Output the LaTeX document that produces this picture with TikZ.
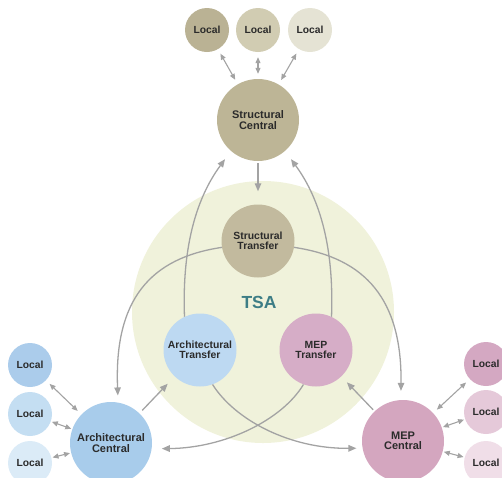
\documentclass[tikz,border=0pt]{standalone}
\usepackage{fontspec}
\setmainfont{Liberation Sans}
\usetikzlibrary{arrows.meta}
\newlength{\du}
\setlength{\du}{1pt}

\begin{document}
\begin{tikzpicture}[
  bubble/.style={circle, inner sep=0pt, align=center, text=labelcolor, font=\bfseries\fontsize{10.4}{10}\selectfont},
  central/.style={bubble, minimum size=82\du, font=\bfseries\fontsize{11}{10.5}\selectfont},
  transfer/.style={bubble, minimum size=73\du},
  local/.style={bubble, minimum size=44\du, font=\bfseries\fontsize{10.3}{10}\selectfont},
  link/.style={draw=linkcolor, line width=1.3\du, -{Triangle[length=8pt,width=6.5pt]}},
  twoway/.style={draw=linkcolor, line width=1.1\du, {Triangle[length=6pt,width=5pt]}-{Triangle[length=6pt,width=5pt]}, shorten <=5\du, shorten >=5\du}
]
\pgftransformxscale{1.000000}
\pgftransformyscale{-1.000000}
\definecolor{labelcolor}{rgb}{0.170000, 0.170000, 0.170000}
\definecolor{linkcolor}{rgb}{0.640000, 0.640000, 0.640000}
\definecolor{tsafill}{rgb}{0.940000, 0.950000, 0.860000}
\definecolor{tsatext}{rgb}{0.240000, 0.490000, 0.520000}
\definecolor{scentral}{rgb}{0.740000, 0.710000, 0.590000}
\definecolor{stransfer}{rgb}{0.760000, 0.730000, 0.620000}
\definecolor{slocala}{rgb}{0.730000, 0.700000, 0.580000}
\definecolor{slocalb}{rgb}{0.820000, 0.800000, 0.700000}
\definecolor{slocalc}{rgb}{0.900000, 0.890000, 0.830000}
\definecolor{acentral}{rgb}{0.660000, 0.800000, 0.920000}
\definecolor{atransfer}{rgb}{0.740000, 0.850000, 0.950000}
\definecolor{alocala}{rgb}{0.670000, 0.800000, 0.920000}
\definecolor{alocalb}{rgb}{0.770000, 0.870000, 0.950000}
\definecolor{alocalc}{rgb}{0.860000, 0.920000, 0.970000}
\definecolor{mcentral}{rgb}{0.830000, 0.650000, 0.750000}
\definecolor{mtransfer}{rgb}{0.840000, 0.680000, 0.780000}
\definecolor{mlocala}{rgb}{0.830000, 0.660000, 0.760000}
\definecolor{mlocalb}{rgb}{0.900000, 0.790000, 0.850000}
\definecolor{mlocalc}{rgb}{0.940000, 0.870000, 0.910000}
\useasboundingbox (0\du,0\du) rectangle (502\du,477\du);
% shared area
\node[circle, fill=tsafill, minimum size=262\du, inner sep=0pt] (tsa) at (263\du,312\du) {};
\node[text=tsatext, font=\bfseries\fontsize{17.5}{18}\selectfont] (tsalabel) at (259\du,302\du) {TSA};
% structural
\node[local, fill=slocala] (sl1) at (207\du,30\du) {Local};
\node[local, fill=slocalb] (sl2) at (258\du,30\du) {Local};
\node[local, fill=slocalc] (sl3) at (310\du,30\du) {Local};
\node[central, fill=scentral] (sc) at (258\du,120\du) {Structural\\Central};
\node[transfer, fill=stransfer] (st) at (258\du,241\du) {Structural\\Transfer};
% architectural
\node[transfer, fill=atransfer] (at) at (200\du,350\du) {Architectural\\Transfer};
\node[central, fill=acentral] (ac) at (111\du,443\du) {Architectural\\Central};
\node[local, fill=alocala] (al1) at (30\du,365\du) {Local};
\node[local, fill=alocalb] (al2) at (30\du,414\du) {Local};
\node[local, fill=alocalc] (al3) at (30\du,463\du) {Local};
% MEP
\node[transfer, fill=mtransfer] (mt) at (316\du,350\du) {MEP\\Transfer};
\node[central, fill=mcentral] (mc) at (403\du,441\du) {MEP\\Central};
\node[local, fill=mlocala] (ml1) at (486\du,364\du) {Local};
\node[local, fill=mlocalb] (ml2) at (486\du,412\du) {Local};
\node[local, fill=mlocalc] (ml3) at (486\du,463\du) {Local};
% local links
\draw[twoway] (sl1) -- (sc);
\draw[twoway] (sl2) -- (sc);
\draw[twoway] (sl3) -- (sc);
\draw[twoway] (al1) -- (ac);
\draw[twoway, shorten <=1\du, shorten >=1\du] (al2) -- (ac);
\draw[twoway, shorten <=1\du, shorten >=1\du] (al3) -- (ac);
\draw[twoway] (ml1) -- (mc);
\draw[twoway, shorten <=1\du, shorten >=1\du] (ml2) -- (mc);
\draw[twoway, shorten <=1\du, shorten >=1\du] (ml3) -- (mc);
% central to transfer
\draw[link, shorten <=2\du, shorten >=13\du] (sc) -- (st);
\draw[link, shorten <=4\du, shorten >=10\du] (ac) -- (at);
\draw[link, shorten <=2\du, shorten >=8\du] (mc) -- (mt);
% transfer to central
\draw[link, shorten >=10\du] (at.115) .. controls (182\du,250\du) and (195\du,200\du) .. (sc.229);
\draw[link, shorten >=10\du] (mt.65) .. controls (334\du,250\du) and (321\du,200\du) .. (sc.311);
\draw[link, shorten >=7\du] (st.190) .. controls (150\du,258\du) and (114\du,300\du) .. (ac.80);
\draw[link, shorten >=9\du] (st.-10) .. controls (366\du,258\du) and (402\du,300\du) .. (mc.93);
\draw[link, shorten >=6\du] (at.-70) .. controls (235\du,420\du) and (290\du,449\du) .. (mc.190);
\draw[link, shorten >=10\du] (mt.-110) .. controls (282\du,420\du) and (225\du,448\du) .. (ac.-8);
\end{tikzpicture}
\end{document}
